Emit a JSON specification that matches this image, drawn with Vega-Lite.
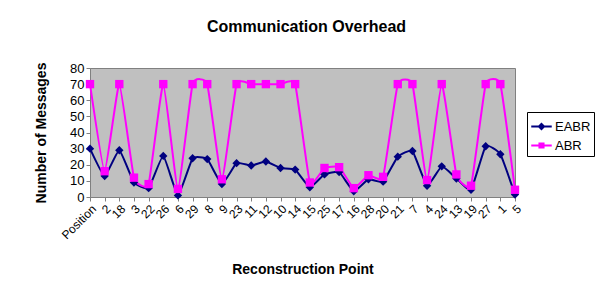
{
  "$schema": "https://vega.github.io/schema/vega-lite/v6.json",
  "autosize": {"type": "none"},
  "padding": {"left": 90, "top": 68, "right": 85, "bottom": 100},
  "width": 425,
  "height": 129,
  "background": "white",
  "config": {
    "font": "Liberation Sans",
    "view": {"fill": "#C0C0C0", "stroke": "#808080", "strokeWidth": 1}
  },
  "title": {
    "text": "Communication Overhead",
    "fontSize": 16,
    "fontWeight": "bold",
    "color": "#000000",
    "anchor": "middle",
    "dx": 4,
    "offset": 27
  },
  "data": {
    "values": [
      {"point": "Position", "series": "EABR", "value": 30},
      {"point": "2", "series": "EABR", "value": 13},
      {"point": "18", "series": "EABR", "value": 29},
      {"point": "3", "series": "EABR", "value": 9},
      {"point": "22", "series": "EABR", "value": 5.5},
      {"point": "26", "series": "EABR", "value": 25.5},
      {"point": "6", "series": "EABR", "value": 1},
      {"point": "29", "series": "EABR", "value": 24},
      {"point": "8", "series": "EABR", "value": 23.5},
      {"point": "9", "series": "EABR", "value": 8},
      {"point": "23", "series": "EABR", "value": 21},
      {"point": "11", "series": "EABR", "value": 19.5},
      {"point": "12", "series": "EABR", "value": 22},
      {"point": "10", "series": "EABR", "value": 18},
      {"point": "14", "series": "EABR", "value": 17},
      {"point": "15", "series": "EABR", "value": 6},
      {"point": "25", "series": "EABR", "value": 14},
      {"point": "17", "series": "EABR", "value": 15.5},
      {"point": "16", "series": "EABR", "value": 3.5},
      {"point": "28", "series": "EABR", "value": 11},
      {"point": "20", "series": "EABR", "value": 9.5},
      {"point": "21", "series": "EABR", "value": 25},
      {"point": "7", "series": "EABR", "value": 28.5},
      {"point": "4", "series": "EABR", "value": 7},
      {"point": "24", "series": "EABR", "value": 19},
      {"point": "13", "series": "EABR", "value": 11.5},
      {"point": "19", "series": "EABR", "value": 4.5},
      {"point": "27", "series": "EABR", "value": 31.5},
      {"point": "1", "series": "EABR", "value": 26.5},
      {"point": "5", "series": "EABR", "value": 1.5},
      {"point": "Position", "series": "ABR", "value": 70},
      {"point": "2", "series": "ABR", "value": 16},
      {"point": "18", "series": "ABR", "value": 70},
      {"point": "3", "series": "ABR", "value": 12},
      {"point": "22", "series": "ABR", "value": 8},
      {"point": "26", "series": "ABR", "value": 70},
      {"point": "6", "series": "ABR", "value": 5},
      {"point": "29", "series": "ABR", "value": 70},
      {"point": "8", "series": "ABR", "value": 70},
      {"point": "9", "series": "ABR", "value": 11},
      {"point": "23", "series": "ABR", "value": 70},
      {"point": "11", "series": "ABR", "value": 70},
      {"point": "12", "series": "ABR", "value": 70},
      {"point": "10", "series": "ABR", "value": 70},
      {"point": "14", "series": "ABR", "value": 70},
      {"point": "15", "series": "ABR", "value": 9},
      {"point": "25", "series": "ABR", "value": 18},
      {"point": "17", "series": "ABR", "value": 18.5},
      {"point": "16", "series": "ABR", "value": 5.5},
      {"point": "28", "series": "ABR", "value": 13.5},
      {"point": "20", "series": "ABR", "value": 12.5},
      {"point": "21", "series": "ABR", "value": 70},
      {"point": "7", "series": "ABR", "value": 70},
      {"point": "4", "series": "ABR", "value": 10.5},
      {"point": "24", "series": "ABR", "value": 70},
      {"point": "13", "series": "ABR", "value": 14},
      {"point": "19", "series": "ABR", "value": 7},
      {"point": "27", "series": "ABR", "value": 70},
      {"point": "1", "series": "ABR", "value": 70},
      {"point": "5", "series": "ABR", "value": 4.5}
    ]
  },
  "encoding": {
    "x": {
      "field": "point",
      "type": "ordinal",
      "sort": null,
      "scale": {"type": "point", "padding": 0},
      "axis": {
        "title": "Reconstruction Point",
        "titleFontSize": 14,
        "titleFontWeight": "bold",
        "titleColor": "#000000",
        "titlePadding": 22,
        "labelAngle": -45,
        "labelFontSize": 12,
        "labelColor": "#000000",
        "labelPadding": 2,
        "domainColor": "#808080",
        "tickColor": "#808080",
        "tickSize": 4,
        "labelOverlap": false,
        "grid": false
      }
    },
    "y": {
      "field": "value",
      "type": "quantitative",
      "scale": {"domain": [0, 80], "nice": false},
      "axis": {
        "title": "Number of Messages",
        "titleFontSize": 14,
        "titleFontWeight": "bold",
        "titleColor": "#000000",
        "titlePadding": 21,
        "values": [0, 10, 20, 30, 40, 50, 60, 70, 80],
        "labelFontSize": 13,
        "labelColor": "#000000",
        "labelPadding": 2,
        "domainColor": "#808080",
        "tickColor": "#808080",
        "tickSize": 4,
        "grid": false
      }
    }
  },
  "layer": [
    {
      "mark": {"type": "line", "interpolate": "cardinal", "tension": 0.6, "strokeWidth": 2},
      "encoding": {
        "color": {
          "field": "series",
          "type": "nominal",
          "scale": {"domain": ["EABR", "ABR"], "range": ["#000080", "#FF00FF"]},
          "legend": {
            "title": null,
            "orient": "none",
            "legendX": 437,
            "legendY": 44,
            "direction": "vertical",
            "labelFontSize": 13,
            "labelColor": "#000000",
            "labelOffset": 2,
            "symbolStrokeWidth": 2,
            "symbolSize": 420,
            "rowPadding": 0,
            "padding": 3,
            "strokeColor": "#000000",
            "fillColor": "#FFFFFF",
            "encode": {
              "symbols": {
                "update": {
                  "shape": {"signal": "datum.value == 'EABR' ? 'M-1,0H-0.25L0,-0.25L0.25,0L0,0.25L-0.25,0ZM0.25,0H1' : 'M-1,0H-0.2V-0.2H0.2V0.2H-0.2V0ZM0.2,0H1'"},
                  "fill": {"signal": "datum.value == 'EABR' ? '#000080' : '#FF00FF'"},
                  "stroke": {"signal": "datum.value == 'EABR' ? '#000080' : '#FF00FF'"}
                }
              }
            }
          }
        }
      }
    },
    {
      "transform": [{"filter": "datum.series == 'EABR'"}],
      "mark": {"type": "point", "shape": "diamond", "filled": true, "opacity": 1, "color": "#000080", "size": 70}
    },
    {
      "transform": [{"filter": "datum.series == 'ABR'"}],
      "mark": {"type": "point", "shape": "square", "filled": true, "opacity": 1, "color": "#FF00FF", "size": 70}
    }
  ]
}
